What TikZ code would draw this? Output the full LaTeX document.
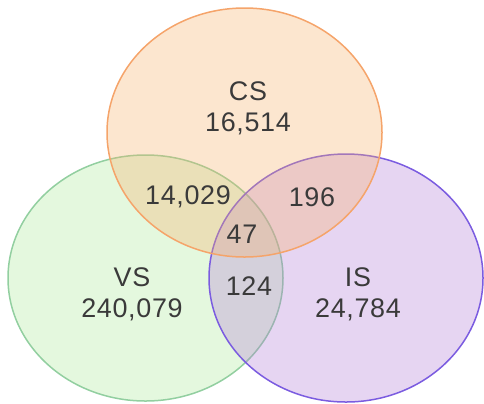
\documentclass[tikz,border=0pt]{standalone}
\usepackage{fontspec}
\setmainfont[LetterSpace=2.5]{Liberation Sans}
\definecolor{csfill}{HTML}{F7B06A}
\definecolor{vsfill}{HTML}{ACE898}
\definecolor{isfill}{HTML}{B27DD7}
\definecolor{csline}{HTML}{F5A46A}
\definecolor{vsline}{HTML}{92CFA0}
\definecolor{isline}{HTML}{7B5CE0}
\definecolor{txt}{HTML}{3A3A3A}
\tikzset{
  setfill/.style={fill=#1, fill opacity=0.32, draw=none},
  setline/.style={draw=#1, line width=1.5bp},
  lbl/.style={text=txt, font=\fontsize{27}{31}\selectfont, inner sep=0pt, anchor=center}
}
\begin{document}
\begin{tikzpicture}[x=1bp,y=-1bp]
\useasboundingbox (0,0) rectangle (484,403);
% VS
\path[setfill=vsfill] (145.5,278) ellipse [x radius=137.5, y radius=123];
\draw[setline=vsline] (145.5,278) ellipse [x radius=137.5, y radius=123];
% IS
\path[setfill=isfill] (346,278) ellipse [x radius=137, y radius=124];
\draw[setline=isline] (346,278) ellipse [x radius=137, y radius=124];
% CS
\path[setfill=csfill] (244.5,132.5) ellipse [x radius=137.5, y radius=124.5];
\draw[setline=csline] (244.5,132.5) ellipse [x radius=137.5, y radius=124.5];
% labels
\node[lbl] (csname) at (248,91) {CS};
\node[lbl] (csnum) at (248,124) {16,514};
\node[lbl] (csvs) at (188,197) {14,029};
\node[lbl] (csis) at (312,197) {196};
\node[lbl] (all) at (242,234) {47};
\node[lbl] (vsname) at (132,277) {VS};
\node[lbl] (vsnum) at (132,310) {240,079};
\node[lbl] (vsis) at (249,286) {124};
\node[lbl] (isname) at (358,277) {IS};
\node[lbl] (isnum) at (358,310) {24,784};
\end{tikzpicture}
\end{document}
